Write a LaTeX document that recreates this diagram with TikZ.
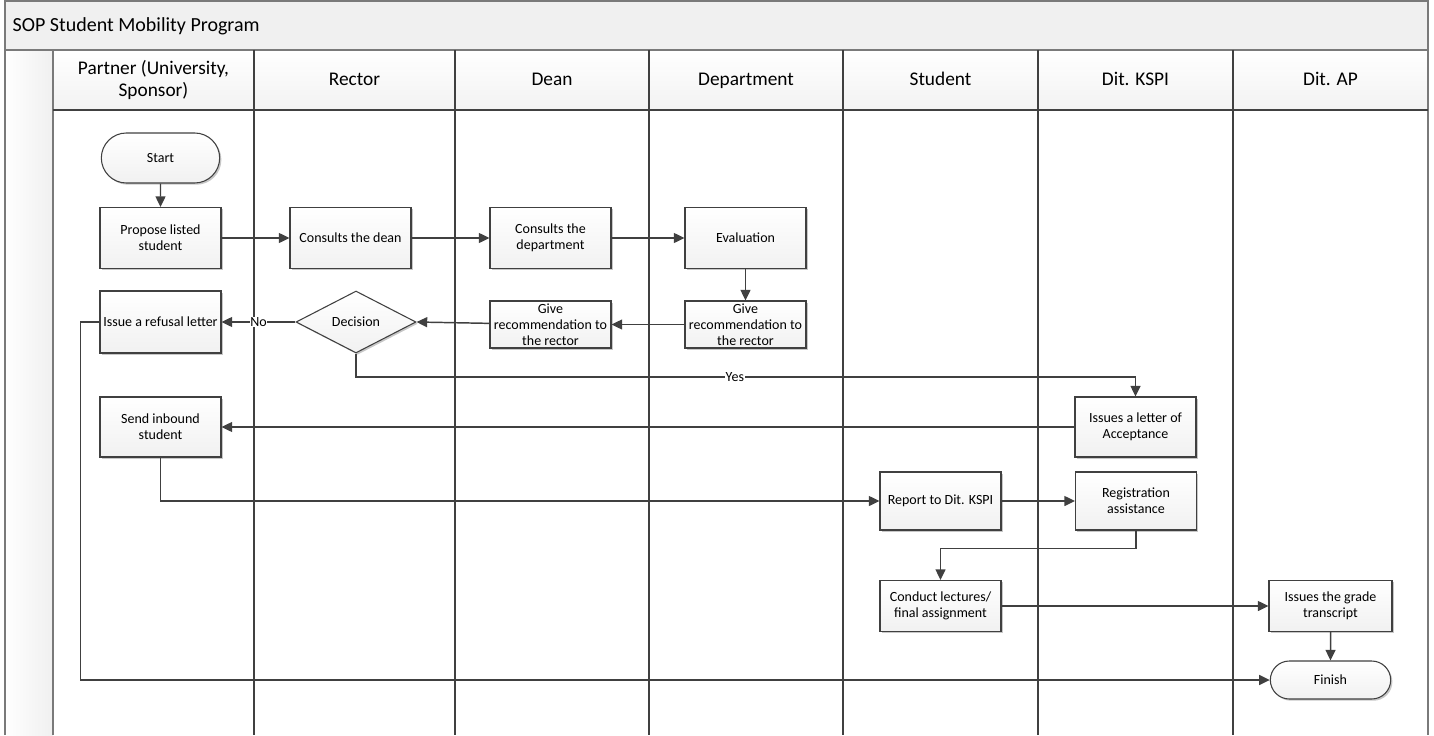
\documentclass[tikz,border=0pt]{standalone}
\usepackage{fontspec}
\setmainfont{Carlito}
\usetikzlibrary{shapes.geometric,shapes.misc,arrows.meta,shadows}
\definecolor{ln}{HTML}{404040}
\definecolor{fr}{HTML}{7A7A7A}
\definecolor{band}{HTML}{F0F0F0}
\begin{document}
\begin{tikzpicture}[x=0.75pt,y=-0.75pt,
  shd/.style={drop shadow={shadow xshift=1.3pt,shadow yshift=-1.3pt,opacity=0.22,fill=black}},
  box/.style={draw=ln, line width=0.8pt, top color=white, bottom color=gray!11, shd,
    font=\fontsize{10.5}{11.8}\selectfont, align=center, inner sep=1pt,
    minimum width=121*0.75pt, minimum height=61*0.75pt},
  term/.style={box, rounded rectangle},
  dec/.style={draw=ln, line width=0.8pt, top color=white, bottom color=gray!11, shd,
    diamond, aspect=1.94, inner sep=0pt, minimum width=120*0.75pt, minimum height=62*0.75pt,
    font=\fontsize{10.5}{12}\selectfont},
  arr/.style={draw=ln, line width=1.1pt, -{Triangle[length=8pt,width=7.5pt]}},
  con/.style={draw=ln, line width=1.1pt},
  lbl/.style={fill=white, inner sep=0.5pt, font=\fontsize{10.5}{12}\selectfont},
  lane/.style={draw=ln, line width=0.9pt},
  hdr/.style={font=\fontsize{14.5}{17}\selectfont, align=center, text height=10.5pt, text depth=3pt}]
\useasboundingbox (0,0) rectangle (1434,735);
% title band and frame
\fill[top color=band, bottom color=band] (5,1) rectangle (1428,50);
\fill[left color=white, right color=gray!12] (5,50) rectangle (53,735);
\foreach \a/\b in {53/254,254/455,455/649,649/843,843/1038,1038/1233,1233/1428}
  \fill[top color=white, bottom color=gray!10] (\a,50) rectangle (\b,110);
\draw[fr, line width=1pt] (5,735) -- (5,1) -- (1428,1) -- (1428,735);
\draw[fr, line width=1pt] (5,50) -- (1428,50);
\draw[fr, line width=1pt] (53,50) -- (53,735);
\draw[lane] (53,110) -- (1428,110);
\foreach \x in {254,455,649,843,1038,1233}
  \draw[lane] (\x,50) -- (\x,735);
\node[anchor=west, font=\fontsize{15}{17}\selectfont] (title) at (8,26) {SOP Student Mobility Program};
\node[font=\fontsize{14.5}{17}\selectfont, align=center] (h1) at (153.5,80) {Partner (University,\\Sponsor)};
\node[hdr] (h2) at (354.5,80) {Rector};
\node[hdr] (h3) at (552,80) {Dean};
\node[hdr] (h4) at (746,80) {Department};
\node[hdr] (h5) at (940.5,80) {Student};
\node[hdr] (h6) at (1135.5,80) {Dit. KSPI};
\node[hdr] (h7) at (1330.5,80) {Dit. AP};
% nodes
\node[term, minimum height=50*0.75pt] (start) at (160.5,158) {Start};
\node[box] (propose) at (160.5,238) {Propose listed\\student};
\node[box] (cdean) at (350.5,238) {Consults the dean};
\node[box] (cdept) at (550.5,238) {Consults the\\department};
\node[box] (eval) at (745.5,238) {Evaluation};
\node[box, minimum height=47*0.75pt] (rec2) at (745.5,324.5) {Give\\recommendation to\\the rector};
\node[box, minimum height=47*0.75pt] (rec1) at (550.5,324.5) {Give\\recommendation to\\the rector};
\node[dec] (decision) at (356,322) {Decision};
\node[box, minimum height=62*0.75pt] (refusal) at (160.5,322) {Issue a refusal letter};
\node[box, minimum height=60*0.75pt] (send) at (160.5,427) {Send inbound\\student};
\node[box, minimum height=60*0.75pt] (accept) at (1135.5,427) {Issues a letter of\\Acceptance};
\node[box, minimum height=58*0.75pt] (report) at (940.5,501) {Report to Dit. KSPI};
\node[box, minimum height=58*0.75pt] (reg) at (1136,501) {Registration\\assistance};
\node[box, minimum height=51*0.75pt] (conduct) at (940.5,606) {Conduct lectures/\\final assignment};
\node[box, minimum width=123*0.75pt, minimum height=51*0.75pt] (grade) at (1330.5,606) {Issues the grade\\transcript};
\node[term, minimum width=123*0.75pt, minimum height=38*0.75pt] (finish) at (1330.5,680) {Finish};
% connectors
\coordinate (yy) at (0,377);
\draw[arr] (start) -- (propose);
\draw[arr] (propose) -- (cdean);
\draw[arr] (cdean) -- (cdept);
\draw[arr] (cdept) -- (eval);
\draw[arr] (eval) -- (rec2);
\draw[arr] (rec2) -- (rec1);
\draw[arr] (rec1) -- (decision.east);
\draw[arr] (decision.west) -- node[lbl]{No} (refusal.east);
\draw[con] (decision.south) |- node[lbl, pos=0.743]{Yes} (yy -| accept.north);
\draw[arr] (yy -| accept.north) -- (accept.north);
\draw[arr] (accept.west) -- (send.east);
\draw[arr] (send.south) |- (report.west);
\draw[arr] (report) -- (reg);
\draw[arr] (reg.south) -- ++(0,18) -| (conduct.north);
\draw[arr] (conduct.east) -- (grade.west);
\draw[arr] (grade) -- (finish);
\draw[arr] (refusal.west) -- ++(-19,0) |- (finish.west);
\end{tikzpicture}
\end{document}
